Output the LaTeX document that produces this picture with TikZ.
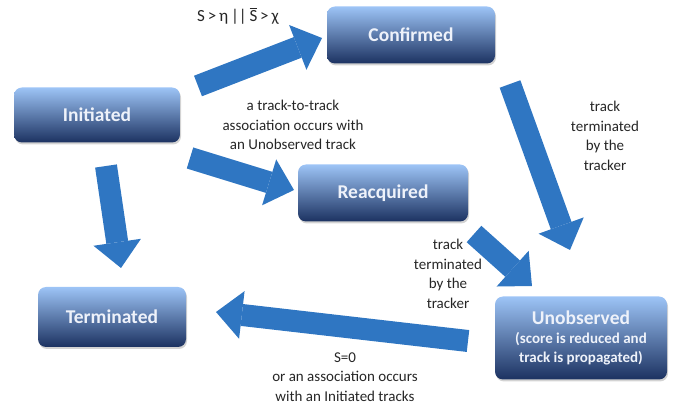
\documentclass[tikz,border=0pt]{standalone}
\usepackage{fontspec}
\setmainfont{Carlito}
\usetikzlibrary{arrows.meta,shadows}
\definecolor{boxtop}{HTML}{9DC4F6}
\definecolor{boxmid}{HTML}{5F86C0}
\definecolor{boxbot}{HTML}{1C3261}
\definecolor{arrowblue}{HTML}{2F76C2}
\definecolor{boxtext}{HTML}{EEF2FA}
\begin{document}
\begin{tikzpicture}[x=1pt,y=-1pt,line join=round]
		\tikzset{state/.style={rounded corners=8pt,top color=boxtop,middle color=boxmid,bottom color=boxbot,
				text=boxtext,align=center,font=\fontsize{19.5}{22}\selectfont\bfseries,
				drop shadow={opacity=.35,shadow xshift=1pt,shadow yshift=-2pt}},
			bigarrow/.style={draw=arrowblue,line width=22pt,-{Triangle[length=26pt,width=48pt,line width=0pt]}},
			note/.style={font=\fontsize{15}{19.5}\selectfont,align=center,text=black!85}}
		\useasboundingbox (0,0) rectangle (680,411);
		% states
		\node[state,minimum width=166pt,minimum height=55pt] (init) at (97,115) {Initiated};
		\node[state,minimum width=168pt,minimum height=57pt] (conf) at (411,35) {Confirmed};
		\node[state,minimum width=170pt,minimum height=57pt] (reac) at (383,193) {Reacquired};
		\node[state,minimum width=148pt,minimum height=60pt] (term) at (112,317) {Terminated};
		\node[state,minimum width=172pt,minimum height=83pt] (unob) at (581,338) {Unobserved\\[-3pt]
			{\fontsize{15}{17}\selectfont (score is reduced and}\\[-3pt]{\fontsize{15}{17}\selectfont track is propagated)}};
		% arrow ends
		\coordinate (ic1) at (198,86);  \coordinate (ic2) at (322,38);
		\coordinate (ir1) at (190,158); \coordinate (ir2) at (294,190);
		\coordinate (it1) at (106,166); \coordinate (it2) at (121,268);
		\coordinate (cu1) at (510,84);  \coordinate (cu2) at (570,250);
		\coordinate (ru1) at (474,234); \coordinate (ru2) at (532,286);
		\coordinate (ut1) at (468,341); \coordinate (ut2) at (216,312);
		\foreach \a/\b in {ic1/ic2,ir1/ir2,it1/it2,cu1/cu2,ru1/ru2,ut1/ut2}
		\draw[bigarrow] (\a)--(\b);
		% labels
		\node[note,font=\fontsize{17}{20}\selectfont] (lc) at (238,16) {S\,>\,η\,||\,\(\overline{\mbox{S}}\)\,>\,χ};
		\node[note] (lr) at (293,125) {a track-to-track\\association occurs with\\an Unobserved track};
		\node[note] (lcu) at (605,136) {track\\terminated\\by the\\tracker};
		\node[note] (lru) at (448,274) {track\\terminated\\by the\\tracker};
		\node[note] (lut) at (345,377) {S=0\\or an association occurs\\with an Initiated tracks};
		\end{tikzpicture}
\end{document}
